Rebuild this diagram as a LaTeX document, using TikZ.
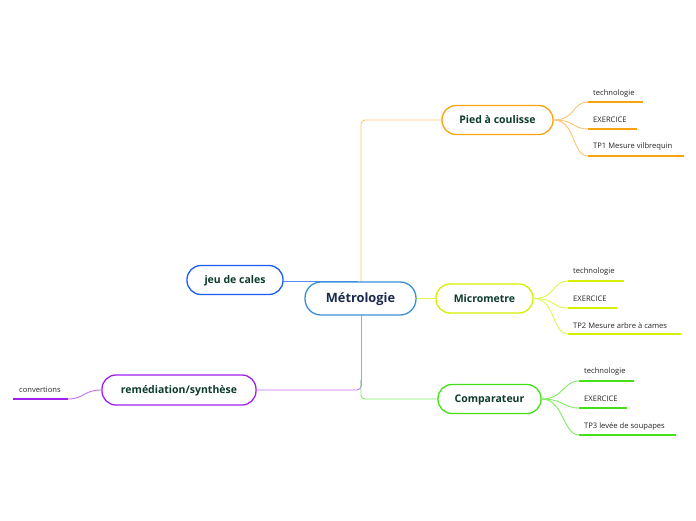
\documentclass[tikz,border=0pt]{standalone}
\usepackage{fontspec}
\setmainfont{Open Sans}
\begin{document}
\begin{tikzpicture}[x=1pt,y=-1pt,
  topic/.style={draw, line width=1.3pt, rounded corners=14pt, fill=white, inner sep=0pt,
     text height=8pt, text depth=1pt,
     font=\fontsize{10.5}{12}\selectfont\bfseries, text=txtgreen},
  leaf/.style={anchor=west, inner sep=0pt, font=\fontsize{7.6}{9}\selectfont, text=black!85},
  under/.style={line width=2.2pt},
  branch/.style={line width=0.9pt},
]
\definecolor{txtgreen}{HTML}{0D3B2E}
\definecolor{navy}{HTML}{1B2A4E}
\definecolor{cblue}{HTML}{3A8FD8}
\definecolor{corange}{HTML}{F8A411}
\definecolor{lorange}{HTML}{FCC474}
\definecolor{cyellow}{HTML}{D6F000}
\definecolor{lyellow}{HTML}{E2F650}
\definecolor{cgreen}{HTML}{44E018}
\definecolor{lgreen}{HTML}{80EC60}
\definecolor{cpurple}{HTML}{A020F0}
\definecolor{lpurple}{HTML}{C470F8}
\definecolor{cjblue}{HTML}{1A5CF0}
\definecolor{ljblue}{HTML}{5A8CF4}
\definecolor{trunkmix}{HTML}{A8A4C8}
\useasboundingbox (0,0) rectangle (696,520);
\fill[white] (0,0) rectangle (696,520);

% trunk connectors
\draw[branch, lorange, rounded corners=4pt] (361,282) |- (442,120);
\draw[branch, ljblue] (283,281) -- (358,281);
\draw[branch, lpurple, rounded corners=4pt] (361,380) |- (256,390);
\draw[branch, lgreen, rounded corners=4pt] (361,380) |- (438,399);
\draw[branch, trunkmix] (361,315) -- (361,386);
\draw[branch, lyellow] (416,298) -- (436,298);

% main nodes
\node[topic, draw=cblue, minimum width=111pt, minimum height=33pt, rounded corners=16pt,
      text height=9.5pt, text depth=1pt,
      font=\fontsize{12.8}{14}\selectfont\bfseries, text=navy] (metro) at (360.5,298.5) {Métrologie};
\node[topic, draw=corange, minimum width=111pt, minimum height=29pt] (pied) at (497.5,120) {Pied à coulisse};
\node[topic, draw=cyellow, minimum width=97pt, minimum height=29pt] (micro) at (484.5,298.5) {Micrometre};
\node[topic, draw=cgreen, minimum width=103pt, minimum height=29pt] (comp) at (489.5,399) {Comparateur};
\node[topic, draw=cjblue, minimum width=96pt, minimum height=29pt] (jeu) at (235,280) {jeu de cales};
\node[topic, draw=cpurple, minimum width=154pt, minimum height=30pt] (remed) at (179,390) {remédiation/synthèse};

% Pied a coulisse children
\node[leaf] (p1) at (593,94) {technologie};
\node[leaf] (p2) at (593,120) {EXERCICE};
\node[leaf] (p3) at (593,147) {TP1 Mesure vilbrequin};
\coordinate (p1a) at (588,102); \coordinate (p1b) at (643,102);
\coordinate (p2a) at (588,129); \coordinate (p2b) at (637,129);
\coordinate (p3a) at (588,156); \coordinate (p3b) at (684,156);
\foreach \c in {p1,p2,p3}{
  \draw[branch, lorange] (pied.east) .. controls +(22,0) and +(-16,0) .. (\c a);
  \draw[under, corange] (\c a) -- (\c b);
}

% Micrometre children
\node[leaf] (m1) at (573,272) {technologie};
\node[leaf] (m2) at (573,299) {EXERCICE};
\node[leaf] (m3) at (573,326) {TP2 Mesure arbre à cames};
\coordinate (m1a) at (568,281); \coordinate (m1b) at (624,281);
\coordinate (m2a) at (568,308); \coordinate (m2b) at (617,308);
\coordinate (m3a) at (568,334); \coordinate (m3b) at (681,334);
\foreach \c in {m1,m2,m3}{
  \draw[branch, lyellow] (micro.east) .. controls +(22,0) and +(-16,0) .. (\c a);
  \draw[under, cyellow] (\c a) -- (\c b);
}

% Comparateur children
\node[leaf] (c1) at (584,372) {technologie};
\node[leaf] (c2) at (584,399) {EXERCICE};
\node[leaf] (c3) at (584,426) {TP3 levée de soupapes};
\coordinate (c1a) at (579,381); \coordinate (c1b) at (634,381);
\coordinate (c2a) at (579,408); \coordinate (c2b) at (627,408);
\coordinate (c3a) at (579,435); \coordinate (c3b) at (676,435);
\foreach \c in {c1,c2,c3}{
  \draw[branch, lgreen] (comp.east) .. controls +(22,0) and +(-16,0) .. (\c a);
  \draw[under, cgreen] (\c a) -- (\c b);
}

% remediation child
\node[leaf] (r1) at (19,390) {convertions};
\coordinate (r1a) at (68,399); \coordinate (r1b) at (13,399);
\draw[branch, lpurple] (remed.west) .. controls +(-18,0) and +(16,0) .. (r1a);
\draw[under, cpurple] (r1a) -- (r1b);
\end{tikzpicture}
\end{document}
